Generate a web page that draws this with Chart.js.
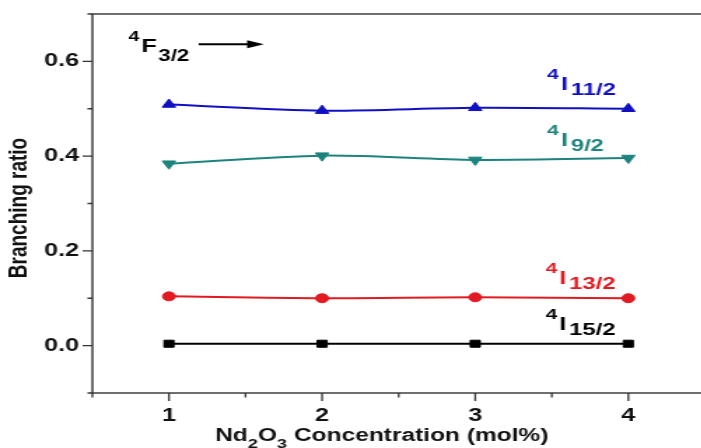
<!DOCTYPE html>
<html>
<head>
<meta charset="utf-8">
<script src="https://cdn.jsdelivr.net/npm/chart.js@4.4.0/dist/chart.umd.min.js"></script>
<style>
  html, body { margin: 0; padding: 0; background: #fff; overflow: hidden; width: 701px; height: 448px; }
  /* the figure is drawn narrow and widened, like the original export */
  #wrap { width: 510px; height: 448px; transform: scaleX(1.4); transform-origin: 0 0; }
</style>
</head>
<body>
<div id="wrap"><canvas id="chart"></canvas></div>
<script>
// Nd2O3 concentration (mol%)
const concentration = [1, 2, 3, 4];

// branching ratios from 4F3/2 to each lower level
const ratio15_2 = [0.004, 0.004, 0.004, 0.004];
const ratio13_2 = [0.104, 0.100, 0.102, 0.100];
const ratio9_2  = [0.384, 0.401, 0.392, 0.396];
const ratio11_2 = [0.509, 0.496, 0.502, 0.500];

const xTickLabels = ['1', '2', '3', '4'];
const yTickLabels = ['0.0', '0.2', '0.4', '0.6'];

const FONT = '"Liberation Sans", Arial, Helvetica, sans-serif';
const BLUE = '#1010c2';
const TEAL = '#1d837e';
const RED = '#e21a22';
const BLACK = '#000000';

function pts(ys) {
  return concentration.map((x, i) => ({ x: x, y: ys[i] }));
}

function series(label, ys, color, style, radius, rotation) {
  return {
    label: label,
    data: pts(ys),
    borderColor: color,
    backgroundColor: color,
    borderWidth: 2,
    tension: 0.3,
    pointStyle: style,
    pointRadius: radius,
    pointRotation: rotation || 0,
    pointBorderWidth: 1,
    pointBorderColor: color,
    pointBackgroundColor: color
  };
}

// text with super/subscripts, drawn left to right
function richWidth(ctx, parts) {
  let w = 0;
  parts.forEach(p => {
    ctx.font = `bold ${p.size}px ${FONT}`;
    w += ctx.measureText(p.t).width + (p.gap || 0);
  });
  return w;
}
function drawRich(ctx, x, y, parts, color) {
  ctx.save();
  ctx.fillStyle = color;
  ctx.textAlign = 'left';
  ctx.textBaseline = 'alphabetic';
  parts.forEach(p => {
    ctx.font = `bold ${p.size}px ${FONT}`;
    ctx.fillText(p.t, x, y + (p.dy || 0));
    x += ctx.measureText(p.t).width + (p.gap || 0);
  });
  ctx.restore();
}
function levelParts(sub) {
  return [
    { t: '4', size: 15, dy: -11, gap: 1.5 },
    { t: 'I', size: 18, gap: 2 },
    { t: sub, size: 17, dy: 5 }
  ];
}

// level labels placed in data units: [sub, x, baseline y, color]
const levelNotes = [
  ['11/2', 3.47, 0.540, BLUE],
  ['9/2',  3.47, 0.422, TEAL],
  ['13/2', 3.46, 0.131, RED],
  ['15/2', 3.46, 0.034, BLACK]
];

const decoration = {
  id: 'decoration',
  afterDraw(chart) {
    const ctx = chart.ctx;
    const a = chart.chartArea;
    const xs = chart.scales.x;
    const ys = chart.scales.y;

    // frame
    ctx.save();
    ctx.strokeStyle = '#333';
    ctx.lineWidth = 1.4;
    ctx.strokeRect(a.left, a.top, a.right - a.left, a.bottom - a.top);

    // outward ticks, major and minor
    ctx.lineWidth = 1.3;
    ctx.beginPath();
    for (let k = -1; k <= 7; k++) {
      const py = ys.getPixelForValue(k / 10);
      const len = k % 2 === 0 ? 7 : 3.5;
      ctx.moveTo(a.left, py);
      ctx.lineTo(a.left - len, py);
    }
    for (let k = 1; k <= 9; k++) {
      const px = xs.getPixelForValue(k / 2);
      const len = k % 2 === 0 ? 8 : 4.5;
      ctx.moveTo(px, a.bottom);
      ctx.lineTo(px, a.bottom + len);
    }
    ctx.stroke();
    ctx.restore();

    // y title
    ctx.save();
    ctx.fillStyle = '#111';
    ctx.font = `bold 19px ${FONT}`;
    ctx.textAlign = 'center';
    ctx.textBaseline = 'middle';
    ctx.translate(14, 208);
    ctx.rotate(-Math.PI / 2);
    ctx.fillText('Branching ratio', 0, 0);
    ctx.restore();

    // x title
    const xt = [
      { t: 'Nd', size: 17.5 },
      { t: '2', size: 13, dy: 7 },
      { t: 'O', size: 17.5 },
      { t: '3', size: 13, dy: 7 },
      { t: ' Concentration (mol%)', size: 17.5 }
    ];
    const xw = richWidth(ctx, xt);
    drawRich(ctx, xs.getPixelForValue(2.39) - xw / 2, 441, xt, '#111');

    // 4F3/2 with arrow
    const fx = xs.getPixelForValue(0.735);
    const fy = ys.getPixelForValue(0.619);
    drawRich(ctx, fx, fy, [
      { t: '4', size: 14, dy: -11, gap: 1.5 },
      { t: 'F', size: 18, gap: 1 },
      { t: '3/2', size: 16, dy: 9 }
    ], BLACK);
    const ax0 = xs.getPixelForValue(1.194);
    const ax1 = xs.getPixelForValue(1.62);
    const ay = ys.getPixelForValue(0.636);
    ctx.save();
    ctx.strokeStyle = BLACK;
    ctx.fillStyle = BLACK;
    ctx.lineWidth = 2;
    ctx.beginPath();
    ctx.moveTo(ax0, ay);
    ctx.lineTo(ax1 - 8, ay);
    ctx.stroke();
    ctx.beginPath();
    ctx.moveTo(ax1, ay);
    ctx.lineTo(ax1 - 12, ay - 4);
    ctx.lineTo(ax1 - 12, ay + 4);
    ctx.closePath();
    ctx.fill();
    ctx.restore();

    // level labels
    levelNotes.forEach(n => {
      drawRich(ctx, xs.getPixelForValue(n[1]), ys.getPixelForValue(n[2]), levelParts(n[0]), n[3]);
    });
  }
};

new Chart(document.getElementById('chart'), {
  type: 'line',
  data: {
    datasets: [
      series('4I15/2', ratio15_2, BLACK, 'rect', 5),
      series('4I13/2', ratio13_2, RED, 'circle', 4.5),
      series('4I9/2', ratio9_2, TEAL, 'triangle', 5.5, 180),
      series('4I11/2', ratio11_2, BLUE, 'triangle', 5.5)
    ]
  },
  options: {
    responsive: true,
    maintainAspectRatio: false,
    animation: false,
    layout: { padding: { top: 14, right: 3, left: 0, bottom: 0 } },
    plugins: { legend: { display: false }, tooltip: { enabled: false } },
    scales: {
      x: {
        type: 'linear',
        min: 0.5,
        max: 4.5,
        grid: { display: false },
        border: { display: false },
        ticks: {
          stepSize: 0.5,
          padding: 4,
          color: '#111',
          font: { family: FONT, size: 18, weight: 'bold' },
          autoSkip: false,
          maxRotation: 0,
          callback: v => {
            const i = concentration.indexOf(v);
            return i >= 0 ? xTickLabels[i] : '';
          }
        },
        afterFit: s => { s.height = 55; }
      },
      y: {
        min: -0.1,
        max: 0.7,
        grid: { display: false },
        border: { display: false },
        ticks: {
          stepSize: 0.1,
          padding: 1.5,
          color: '#111',
          font: { family: FONT, size: 18, weight: 'bold' },
          autoSkip: false,
          callback: v => {
            const k = Math.round(v * 10);
            return (k >= 0 && k % 2 === 0 && k / 2 < yTickLabels.length) ? yTickLabels[k / 2] : '';
          }
        },
        afterFit: s => { s.width = 66; }
      }
    }
  },
  plugins: [decoration]
});
</script>
</body>
</html>
